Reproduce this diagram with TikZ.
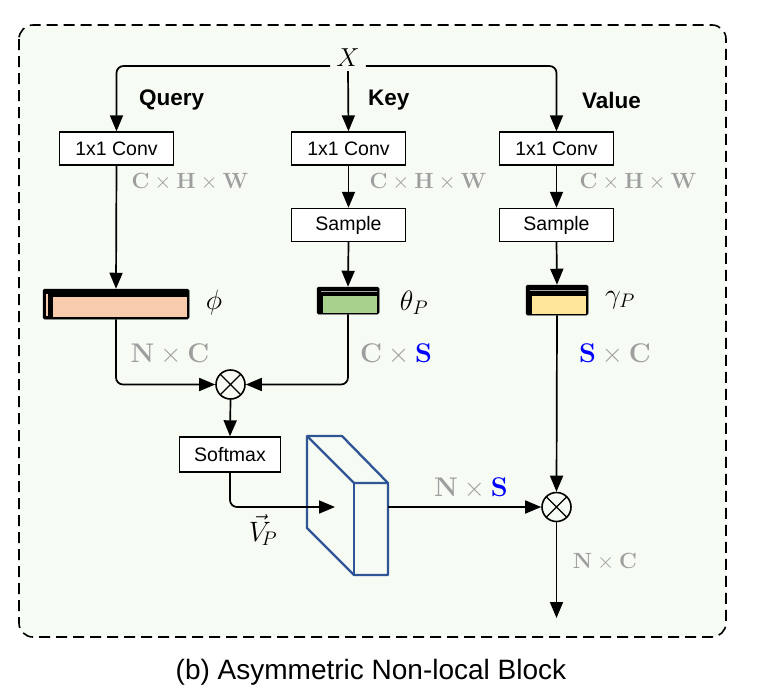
\RequirePackage{fix-cm}
\documentclass[tikz,border=0pt]{standalone}
\usepackage[no-math]{fontspec}
\newfontfamily\arial{Liberation Sans}
\usetikzlibrary{arrows.meta,calc}
\definecolor{bgmint}{HTML}{F6FBF3}
\definecolor{dimgray}{HTML}{9E9E9E}
\definecolor{peach}{HTML}{F8CBAD}
\definecolor{leaf}{HTML}{A9D18E}
\definecolor{butter}{HTML}{FFE699}
\definecolor{cubeblue}{HTML}{2F5597}
\definecolor{sblue}{HTML}{0000FF}
\begin{document}
\begin{tikzpicture}[x=1pt,y=-1pt,
  box/.style={draw, line width=1.4pt, fill=white, minimum width=114pt, minimum height=33pt, inner sep=0pt, font=\arial\fontsize{19.5}{21}\selectfont},
  arr/.style={line width=1.7pt, -{Triangle[length=16pt,width=13pt]}},
  dim/.style={text=dimgray, font=\fontsize{27}{30}\selectfont, inner sep=0pt},
  dimsm/.style={text=dimgray, font=\fontsize{22}{25}\selectfont, inner sep=0pt},
  head/.style={font=\arial\bfseries\fontsize{22.5}{24}\selectfont, anchor=west, inner sep=0pt},
  sym/.style={font=\fontsize{28}{30}\selectfont, inner sep=0pt},
  bar/.style={draw=black, fill=black, line width=0.5pt, inner sep=0pt, rounded corners=1.5pt},
  otimes/.style={circle, draw, line width=1.6pt, minimum size=29pt, inner sep=0pt,
    path picture={\draw[line width=1.3pt] (path picture bounding box.north west) -- (path picture bounding box.south east) (path picture bounding box.north east) -- (path picture bounding box.south west);}},
  cube/.style={draw=cubeblue, line width=2.3pt, line join=round}
]
\useasboundingbox (0,0) rectangle (765,697);
\fill[white] (0,0) rectangle (765,697);
% frame
\draw[dashed, dash pattern=on 11pt off 6pt, line width=1.6pt, rounded corners=14pt, fill=bgmint] (19,25) rectangle (726,637);

% input
\node[font=\fontsize{26}{28}\selectfont, inner xsep=6pt, inner ysep=4pt] (X) at (348,58) {$X$};
\coordinate (split) at (348,66);

% conv boxes
\node[box] (qconv) at (116.5,148.5) {1x1 Conv};
\node[box] (kconv) at (348.5,148.5) {1x1 Conv};
\node[box] (vconv) at (556.5,148.5) {1x1 Conv};
\node[box] (ksample) at (348.5,225) {Sample};
\node[box] (vsample) at (556.5,225) {Sample};
\node[box, minimum width=101pt, minimum height=35pt] (softmax) at (230,454.5) {Softmax};

% headings
\node[head] (hq) at (139,100) {Query};
\node[head] (hk) at (368,100) {Key};
\node[head] (hv) at (582,100) {Value};

% bars
\node[bar, minimum width=146pt, minimum height=30pt] (phibar) at (116,304) {};
\fill[peach] (53,297) rectangle (186.5,316.5);
\fill[peach] (45.5,294) rectangle (47.5,316);
\node[bar, minimum width=62pt, minimum height=27pt] (thetabar) at (348,300.5) {};
\fill[leaf] (323,296) rectangle (377,312.5);
\draw[gray!70, line width=0.6pt] (321,291) -- (377,291);
\node[bar, minimum width=62pt, minimum height=30pt] (gammabar) at (557,300) {};
\fill[butter] (532,296) rectangle (586,313.5);
\draw[gray!70, line width=0.6pt] (530,290) -- (586,290);

% symbols
\node[sym] (phi) at (214,302) {$\phi$};
\node[sym] (theta) at (414,303) {$\theta_P$};
\node[sym] (gamma) at (620,300) {$\gamma_P$};

% dims
\node[dimsm] (d1) at (190,182) {$\mathbf{C}\times\mathbf{H}\times\mathbf{W}$};
\node[dimsm] (d2) at (428,182) {$\mathbf{C}\times\mathbf{H}\times\mathbf{W}$};
\node[dimsm] (d3) at (638,182) {$\mathbf{C}\times\mathbf{H}\times\mathbf{W}$};
\node[dim] (d4) at (170,354) {$\mathbf{N}\times\mathbf{C}$};
\node[dim] (d5) at (396,354) {$\mathbf{C}\times\textcolor{sblue}{\mathbf{S}}$};
\node[dim] (d6) at (615,354) {$\textcolor{sblue}{\mathbf{S}}\times\mathbf{C}$};
\node[dim] (d7) at (471,488) {$\mathbf{N}\times\textcolor{sblue}{\mathbf{S}}$};
\node[dimsm] (d8) at (605,562) {$\mathbf{N}\times\mathbf{C}$};

% otimes
\node[otimes] (ot1) at (230.5,384.5) {};
\node[otimes] (ot2) at (556.5,507) {};

% cube
\draw[cube] (307,436) -- (342,436) -- (388,483) -- (388,575) -- (354,575) -- (307,528) -- cycle;
\draw[cube] (307,436) -- (354,483) -- (388,483);
\draw[cube] (354,483) -- (354,575);
\coordinate (cuberight) at (388,507);
\coordinate (vpend) at (335,507);
\node[sym] (vp) at (263,530) {$\vec{V}_{\!P}$};

% connectors
\draw[arr, rounded corners=7pt] (X.west |- split) -| (qconv.north);
\draw[arr, rounded corners=7pt] (X.east |- split) -| (vconv.north);
\draw[arr] (X.south) -- (kconv.north);
\draw[arr] (qconv.south) -- (phibar.north);
\draw[arr] (kconv.south) -- (ksample.north);
\draw[arr] (ksample.south) -- (thetabar.north);
\draw[arr] (vconv.south) -- (vsample.north);
\draw[arr] (vsample.south) -- (gammabar.north);
\draw[arr, rounded corners=7pt] (phibar.south) |- (ot1.west);
\draw[arr, rounded corners=7pt] (thetabar.south) |- (ot1.east);
\draw[arr] (ot1.south) -- (softmax.north);
\draw[arr, rounded corners=7pt] (softmax.south) |- (vpend);
\draw[arr] (cuberight) -- (ot2.west);
\draw[arr] (gammabar.south) -- (ot2.north);
\coordinate (out) at (556.5,618);
\draw[arr] (ot2.south) -- (out);

% caption
\node[font=\arial\fontsize{28}{30}\selectfont, inner sep=0pt] (cap) at (371,672) {(b) Asymmetric Non-local Block};
\end{tikzpicture}
\end{document}
